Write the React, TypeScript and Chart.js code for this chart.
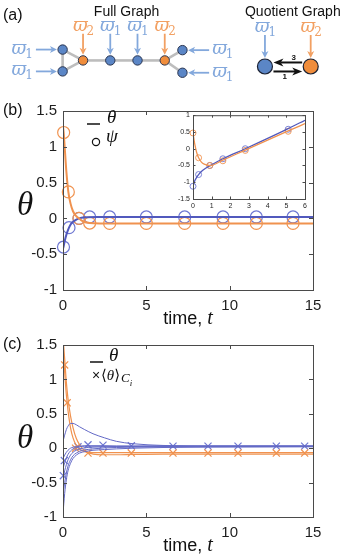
import React, { useEffect, useRef } from "react";
import { Chart, registerables } from "chart.js";

Chart.register(...registerables);

const SANS = "'Liberation Sans', Arial, Helvetica, sans-serif";
const SERIF = "'Liberation Serif', 'Times New Roman', serif";
const MATH = "'DejaVu Serif', 'Liberation Serif', serif";

const ORANGE = "#f0924f";
const BLUE = "#5159bd";
const BLUE_MARK = "#6f78d2";
const BLUE_THIN = "#6369c6";
const BLUE_NODE = "#5b86c6";
const ORANGE_NODE = "#f08d3c";
const BLUE_ARROW = "#83a8dc";
const ORANGE_ARROW = "#f2a062";
const EDGE = "#bdbdbd";
const FRAME = "#4a4a4a";
const TICK_TEXT = "#1e1e1e";

// ---------- (a) graph layouts (layout units) ----------
const fullNodeX = [0, 0, 0.75, 1.75, 2.75, 3.75, 4.4, 4.4];
const fullNodeY = [0.97, -0.98, 0, 0, 0, 0, 0.92, -1.1];
const fullNodeCluster = [1, 1, 2, 1, 1, 2, 1, 1];
const fullEdgeFrom = [0, 0, 1, 2, 3, 4, 5, 5];
const fullEdgeTo = [1, 2, 2, 3, 4, 5, 6, 7];
const fullInputSide = ["left", "left", "top", "top", "top", "top", "right", "right"];
const quotNodeX = [7.43, 9.11];
const quotNodeY = [-0.54, -0.54];
const quotCluster = [1, 2];
const quotLinkFrom = [1, 0];
const quotLinkTo = [0, 1];
const quotLinkWeight = [3, 1];

// ---------- (b) reduced dynamics ----------
const bTimeOrange = [0, 0.04, 0.1, 0.2, 0.32, 0.45, 0.6, 0.8, 0.96, 1.2, 1.6, 2.2, 15];
const bThetaOrange = [1.28, 1.2, 1.0, 0.66, 0.37, 0.21, 0.1, 0.03, 0.0, -0.04, -0.065, -0.07, -0.07];
const bTimeBlue = [0, 0.03, 0.1, 0.2, 0.36, 0.5, 0.7, 0.96, 1.3, 2, 15];
const bThetaBlue = [-0.42, -0.4, -0.32, -0.23, -0.13, -0.07, -0.03, 0.0, 0.015, 0.02, 0.02];
const bPsiTimeOrange = [0.04, 0.32, 0.96, 1.6, 2.8, 5.0, 7.3, 9.6, 11.6, 13.8];
const bPsiOrange = [1.2, 0.37, 0.0, -0.065, -0.07, -0.07, -0.07, -0.07, -0.07, -0.07];
const bPsiTimeBlue = [0.03, 0.36, 0.96, 1.6, 2.8, 5.0, 7.3, 9.6, 11.6, 13.8];
const bPsiBlue = [-0.4, -0.13, 0.0, 0.02, 0.02, 0.02, 0.02, 0.02, 0.02, 0.02];

// inset: drifting frame
const insetTime = [0, 0.1, 0.2, 0.3, 0.45, 0.6, 0.9, 1.6, 2.8, 5.1, 6];
const insetThetaOrange = [0.47, 0.12, -0.12, -0.27, -0.4, -0.46, -0.5, -0.34, -0.04, 0.53, 0.75];
const insetThetaBlue = [-1.12, -0.95, -0.85, -0.77, -0.68, -0.61, -0.51, -0.3, 0.0, 0.6, 0.85];
const insetPsiTime = [0, 0.3, 0.9, 1.6, 2.8, 5.1];
const insetPsiOrange = [0.47, -0.27, -0.5, -0.36, -0.05, 0.52];
const insetPsiBlue = [-1.12, -0.77, -0.5, -0.3, 0.0, 0.58];

// ---------- (c) full network ----------
const cTime = [0, 0.1, 0.2, 0.3, 0.45, 0.6, 0.8, 1.0, 1.3, 1.8, 2.5, 3.2, 4.2, 6, 9, 15];
const cThetaBlue = [
  [0.1, 0.19, 0.27, 0.32, 0.36, 0.36, 0.34, 0.31, 0.27, 0.21, 0.15, 0.1, 0.065, 0.04, 0.03, 0.03],
  [-0.15, -0.1, -0.06, -0.03, 0.0, 0.015, 0.025, 0.03, 0.035, 0.035, 0.035, 0.03, 0.03, 0.03, 0.03, 0.03],
  [-0.3, -0.21, -0.14, -0.09, -0.04, -0.01, 0.01, 0.02, 0.03, 0.03, 0.03, 0.03, 0.03, 0.03, 0.03, 0.03],
  [-0.45, -0.33, -0.24, -0.17, -0.1, -0.06, -0.03, -0.01, 0.005, 0.015, 0.02, 0.025, 0.025, 0.03, 0.03, 0.03],
  [-0.68, -0.5, -0.36, -0.26, -0.17, -0.11, -0.07, -0.045, -0.025, -0.01, 0.005, 0.01, 0.015, 0.02, 0.025, 0.025],
  [-0.95, -0.66, -0.46, -0.33, -0.22, -0.15, -0.1, -0.07, -0.05, -0.03, -0.02, -0.01, 0.0, 0.01, 0.015, 0.02],
];
const cThetaOrange = [
  [1.45, 1.1, 0.78, 0.55, 0.3, 0.15, 0.04, -0.02, -0.05, -0.065, -0.065, -0.065, -0.065, -0.065, -0.065, -0.065],
  [1.62, 1.3, 0.96, 0.72, 0.47, 0.3, 0.14, 0.05, -0.04, -0.085, -0.095, -0.095, -0.09, -0.085, -0.085, -0.085],
];
const cMeanTimeBlue = [0.02, 0.08, 0.9, 1.5, 2.4, 4.1, 6.6, 8.7, 10.5, 12.8, 14.5];
const cMeanBlue = [-0.4, -0.18, 0.02, 0.05, 0.045, 0.035, 0.03, 0.03, 0.03, 0.03, 0.03];
const cMeanTimeOrange = [0.1, 0.25, 0.75, 1.5, 2.4, 4.1, 6.6, 8.7, 10.5, 12.8, 14.5];
const cMeanOrange = [1.21, 0.66, 0.0, -0.07, -0.07, -0.07, -0.07, -0.07, -0.07, -0.07, -0.07];

const pts = (t: number[], v: number[]) => t.map((x, i) => ({ x, y: v[i] }));

// ---------- drawing helpers ----------
function arrow(ctx: CanvasRenderingContext2D, x1: number, y1: number, x2: number, y2: number,
  color: string, w: number, hl: number, hw: number) {
  const a = Math.atan2(y2 - y1, x2 - x1);
  const c = Math.cos(a), s = Math.sin(a);
  ctx.strokeStyle = color;
  ctx.lineWidth = w;
  ctx.beginPath();
  ctx.moveTo(x1, y1);
  ctx.lineTo(x2 - c * hl * 0.7, y2 - s * hl * 0.7);
  ctx.stroke();
  ctx.fillStyle = color;
  ctx.beginPath();
  ctx.moveTo(x2, y2);
  ctx.lineTo(x2 - c * hl - s * hw, y2 - s * hl + c * hw);
  ctx.lineTo(x2 - c * hl * 0.72, y2 - s * hl * 0.72);
  ctx.lineTo(x2 - c * hl + s * hw, y2 - s * hl - c * hw);
  ctx.closePath();
  ctx.fill();
}

function varpiWidth(ctx: CanvasRenderingContext2D, sub: string) {
  ctx.font = `italic 18px ${MATH}`;
  const w1 = ctx.measureText("ϖ").width;
  ctx.font = `12px ${MATH}`;
  return w1 + ctx.measureText(sub).width;
}

function varpi(ctx: CanvasRenderingContext2D, x0: number, cy: number, sub: string, color: string) {
  ctx.fillStyle = color;
  ctx.textAlign = "left";
  ctx.textBaseline = "alphabetic";
  ctx.font = `italic 18px ${MATH}`;
  const w1 = ctx.measureText("ϖ").width;
  ctx.fillText("ϖ", x0, cy + 4);
  ctx.font = `12px ${MATH}`;
  ctx.fillText(sub, x0 + w1 - 1, cy + 8);
}

function drawBox(chart: any, len: number) {
  const ctx: CanvasRenderingContext2D = chart.ctx;
  const { left, right, top, bottom } = chart.chartArea;
  const xs = chart.scales.x, ys = chart.scales.y;
  ctx.save();
  ctx.strokeStyle = FRAME;
  ctx.lineWidth = 1;
  ctx.strokeRect(left + 0.5, top + 0.5, right - left, bottom - top);
  ctx.beginPath();
  xs.ticks.forEach((t: any) => {
    const px = Math.round(xs.getPixelForValue(t.value)) + 0.5;
    ctx.moveTo(px, bottom); ctx.lineTo(px, bottom - len);
    ctx.moveTo(px, top); ctx.lineTo(px, top + len);
  });
  ys.ticks.forEach((t: any) => {
    const py = Math.round(ys.getPixelForValue(t.value)) + 0.5;
    ctx.moveTo(left, py); ctx.lineTo(left + len, py);
    ctx.moveTo(right, py); ctx.lineTo(right - len, py);
  });
  ctx.stroke();
  ctx.restore();
}

function drawTimeLabel(ctx: CanvasRenderingContext2D, cx: number, baseY: number) {
  ctx.textAlign = "left";
  ctx.textBaseline = "alphabetic";
  ctx.fillStyle = "#111";
  ctx.font = `18px ${SANS}`;
  const a = "time, ";
  const wa = ctx.measureText(a).width;
  ctx.font = `italic 20px ${SERIF}`;
  const wb = ctx.measureText("t").width;
  const x0 = cx - (wa + wb) / 2;
  ctx.font = `18px ${SANS}`;
  ctx.fillText(a, x0, baseY);
  ctx.font = `italic 20px ${SERIF}`;
  ctx.fillText("t", x0 + wa, baseY);
}

function drawThetaLabel(ctx: CanvasRenderingContext2D, cx: number, cy: number) {
  ctx.fillStyle = "#111";
  ctx.textAlign = "center";
  ctx.textBaseline = "middle";
  ctx.font = `italic 33px ${SERIF}`;
  ctx.fillText("θ", cx, cy);
}

function linearAxes(o: {
  xMin: number; xMax: number; xStep: number; yMin: number; yMax: number; yStep: number;
  yWidth: number; xHeight: number; size: number; xPad: number; yPad: number;
}) {
  const tickFont = { family: SANS, size: o.size };
  return {
    x: {
      type: "linear", min: o.xMin, max: o.xMax,
      ticks: { stepSize: o.xStep, font: tickFont, color: TICK_TEXT, padding: o.xPad, maxRotation: 0, autoSkip: false, callback: (v: any) => String(v) },
      grid: { display: false, drawTicks: false }, border: { display: false },
      afterFit: (s: any) => { s.height = o.xHeight; },
    },
    y: {
      type: "linear", min: o.yMin, max: o.yMax,
      ticks: { stepSize: o.yStep, font: tickFont, color: TICK_TEXT, padding: o.yPad, autoSkip: false, callback: (v: any) => String(v) },
      grid: { display: false, drawTicks: false }, border: { display: false },
      afterFit: (s: any) => { s.width = o.yWidth; },
    },
  };
}

const quiet = { legend: { display: false }, tooltip: { enabled: false } };

// ---------- chart configs ----------
function graphConfig(): any {
  const nodeColor = (c: number) => (c === 1 ? BLUE_NODE : ORANGE_NODE);
  const edgeSets = fullEdgeFrom.map((f, i) => ({
    type: "scatter",
    data: [
      { x: fullNodeX[f], y: fullNodeY[f] },
      { x: fullNodeX[fullEdgeTo[i]], y: fullNodeY[fullEdgeTo[i]] },
    ],
    showLine: true, borderColor: EDGE, borderWidth: 2.6, pointRadius: 0, order: 2, clip: false,
  }));
  const deco = {
    id: "graphDeco",
    afterDatasetsDraw(chart: any) {
      const ctx: CanvasRenderingContext2D = chart.ctx;
      const xs = chart.scales.x, ys = chart.scales.y;
      ctx.save();
      ctx.fillStyle = "#111";
      ctx.textBaseline = "middle";
      ctx.textAlign = "left";
      ctx.font = `16px ${SANS}`;
      ctx.fillText("(a)", 3, 16);
      ctx.font = `14px ${SANS}`;
      ctx.textAlign = "center";
      const fx = fullNodeX.map((v) => xs.getPixelForValue(v));
      const fy = fullNodeY.map((v) => ys.getPixelForValue(v));
      ctx.fillText("Full Graph", (Math.min(...fx) + Math.max(...fx)) / 2 + 4, 12);
      const qx = quotNodeX.map((v) => xs.getPixelForValue(v));
      const qy = quotNodeY.map((v) => ys.getPixelForValue(v));
      ctx.fillText("Quotient Graph", (qx[0] + qx[1]) / 2 + 5, 12);

      const r = 4.7;
      fullInputSide.forEach((side, i) => {
        const c = fullNodeCluster[i];
        const col = c === 1 ? BLUE_ARROW : ORANGE_ARROW;
        const sub = String(c);
        const w = varpiWidth(ctx, sub);
        if (side === "left") {
          arrow(ctx, fx[i] - r - 22, fy[i], fx[i] - r - 1, fy[i], col, 1.8, 7, 3.5);
          varpi(ctx, fx[i] - r - 24 - w, fy[i], sub, col);
        } else if (side === "right") {
          arrow(ctx, fx[i] + r + 22, fy[i], fx[i] + r + 1, fy[i], col, 1.8, 7, 3.5);
          varpi(ctx, fx[i] + r + 25, fy[i], sub, col);
        } else {
          arrow(ctx, fx[i], fy[i] - r - 22, fx[i], fy[i] - r - 1, col, 1.8, 7, 3.5);
          varpi(ctx, fx[i] + 1 - w / 2, fy[i] - r - 29, sub, col);
        }
      });

      const qr = 7.5;
      quotCluster.forEach((c, i) => {
        const col = c === 1 ? BLUE_ARROW : ORANGE_ARROW;
        const sub = String(c);
        const w = varpiWidth(ctx, sub);
        arrow(ctx, qx[i], qy[i] - qr - 24, qx[i], qy[i] - qr - 1, col, 1.8, 7, 3.5);
        varpi(ctx, qx[i] + 1 - w / 2, qy[i] - qr - 31, sub, col);
      });
      quotLinkFrom.forEach((f, k) => {
        const t = quotLinkTo[k];
        const dir = Math.sign(qx[t] - qx[f]);
        const y = qy[f] + (dir < 0 ? -4 : 5);
        arrow(ctx, qx[f] + dir * (qr + 1), y, qx[t] - dir * (qr + 1), y, "#111", 2, 10, 4);
        const mid = (qx[f] + qx[t]) / 2;
        ctx.fillStyle = "#111";
        ctx.font = `bold 8px ${SANS}`;
        ctx.textAlign = "center";
        ctx.textBaseline = "middle";
        ctx.fillText(String(quotLinkWeight[k]), dir < 0 ? mid + 6 : mid - 3, dir < 0 ? y - 5 : y + 5);
      });
      ctx.restore();
    },
  };
  return {
    type: "scatter",
    data: {
      datasets: [
        ...edgeSets,
        {
          type: "scatter",
          data: pts(fullNodeX, fullNodeY),
          pointRadius: 4.7,
          pointBackgroundColor: fullNodeCluster.map(nodeColor),
          pointBorderColor: "#2a3550",
          pointBorderWidth: 1,
          order: 1, clip: false,
        },
        {
          type: "scatter",
          data: pts(quotNodeX, quotNodeY),
          pointRadius: 7.5,
          pointBackgroundColor: quotCluster.map(nodeColor),
          pointBorderColor: "#1c2233",
          pointBorderWidth: 1.2,
          order: 1, clip: false,
        },
      ],
    },
    options: {
      responsive: false, animation: false, events: [],
      layout: { padding: 0 },
      plugins: quiet,
      scales: {
        x: { type: "linear", display: false, min: -1.98, max: 9.94 },
        y: { type: "linear", display: false, min: -2.31, max: 4.62 },
      },
    },
    plugins: [deco],
  };
}

function reducedConfig(): any {
  const deco = {
    id: "reducedDeco",
    afterDatasetsDraw(chart: any) {
      drawBox(chart, 4);
      const ctx: CanvasRenderingContext2D = chart.ctx;
      const { left, top, right, bottom } = chart.chartArea;
      ctx.save();
      ctx.fillStyle = "#111";
      ctx.textAlign = "left";
      ctx.textBaseline = "middle";
      ctx.font = `16px ${SANS}`;
      ctx.fillText("(b)", 3, top);
      drawThetaLabel(ctx, 25, chart.scales.y.getPixelForValue(0) - 12);
      drawTimeLabel(ctx, (left + right) / 2, bottom + 34);
      // legend
      ctx.strokeStyle = "#111";
      ctx.lineWidth = 1.5;
      ctx.beginPath();
      ctx.moveTo(left + 24, top + 13);
      ctx.lineTo(left + 37, top + 13);
      ctx.stroke();
      ctx.font = `italic 19px ${SERIF}`;
      ctx.fillStyle = "#111";
      ctx.fillText("θ", left + 44, top + 12);
      ctx.lineWidth = 1.2;
      ctx.beginPath();
      ctx.arc(left + 33, top + 31, 3.6, 0, Math.PI * 2);
      ctx.stroke();
      ctx.fillText("ψ", left + 43, top + 31);
      ctx.restore();
    },
  };
  return {
    type: "line",
    data: {
      datasets: [
        { data: pts(bTimeOrange, bThetaOrange), borderColor: ORANGE, borderWidth: 2, pointRadius: 0, cubicInterpolationMode: "monotone" },
        { data: pts(bTimeBlue, bThetaBlue), borderColor: BLUE, borderWidth: 2, pointRadius: 0, cubicInterpolationMode: "monotone" },
        { data: pts(bPsiTimeOrange, bPsiOrange), showLine: false, pointStyle: "circle", pointRadius: 6, pointBorderColor: ORANGE, pointBackgroundColor: "rgba(0,0,0,0)", pointBorderWidth: 1.2, clip: false },
        { data: pts(bPsiTimeBlue, bPsiBlue), showLine: false, pointStyle: "circle", pointRadius: 6, pointBorderColor: BLUE_MARK, pointBackgroundColor: "rgba(0,0,0,0)", pointBorderWidth: 1.2, clip: false },
      ],
    },
    options: {
      responsive: false, animation: false, events: [],
      layout: { padding: { top: 16, right: 29, left: 0, bottom: 0 } },
      plugins: quiet,
      scales: linearAxes({ xMin: 0, xMax: 15, xStep: 5, yMin: -1, yMax: 1.5, yStep: 0.5, yWidth: 63, xHeight: 40, size: 15, xPad: 7, yPad: 6 }),
    },
    plugins: [deco],
  };
}

function insetConfig(): any {
  const deco = {
    id: "insetDeco",
    beforeDatasetsDraw(chart: any) {
      const { left, top, right, bottom } = chart.chartArea;
      chart.ctx.save();
      chart.ctx.fillStyle = "#fff";
      chart.ctx.fillRect(left, top, right - left, bottom - top);
      chart.ctx.restore();
    },
    afterDatasetsDraw(chart: any) {
      drawBox(chart, 2.5);
    },
  };
  return {
    type: "line",
    data: {
      datasets: [
        { data: pts(insetTime, insetThetaOrange), borderColor: ORANGE, borderWidth: 1.3, pointRadius: 0, cubicInterpolationMode: "monotone" },
        { data: pts(insetTime, insetThetaBlue), borderColor: BLUE, borderWidth: 1.3, pointRadius: 0, cubicInterpolationMode: "monotone" },
        { data: pts(insetPsiTime, insetPsiOrange), showLine: false, pointStyle: "circle", pointRadius: 3, pointBorderColor: ORANGE, pointBackgroundColor: "rgba(0,0,0,0)", pointBorderWidth: 0.9, clip: false },
        { data: pts(insetPsiTime, insetPsiBlue), showLine: false, pointStyle: "circle", pointRadius: 3, pointBorderColor: BLUE_MARK, pointBackgroundColor: "rgba(0,0,0,0)", pointBorderWidth: 0.9, clip: false },
      ],
    },
    options: {
      responsive: false, animation: false, events: [],
      layout: { padding: { top: 7, right: 5, left: 0, bottom: 0 } },
      plugins: quiet,
      scales: linearAxes({ xMin: 0, xMax: 6, xStep: 1, yMin: -1.5, yMax: 1, yStep: 0.5, yWidth: 23, xHeight: 12, size: 7, xPad: 3, yPad: 3 }),
    },
    plugins: [deco],
  };
}

function fullConfig(): any {
  const deco = {
    id: "fullDeco",
    afterDatasetsDraw(chart: any) {
      drawBox(chart, 4);
      const ctx: CanvasRenderingContext2D = chart.ctx;
      const { left, top, right, bottom } = chart.chartArea;
      ctx.save();
      ctx.fillStyle = "#111";
      ctx.textAlign = "left";
      ctx.textBaseline = "middle";
      ctx.font = `16px ${SANS}`;
      ctx.fillText("(c)", 3, top);
      drawThetaLabel(ctx, 25, chart.scales.y.getPixelForValue(0) - 9);
      drawTimeLabel(ctx, (left + right) / 2, bottom + 34);
      // legend
      ctx.strokeStyle = "#111";
      ctx.lineWidth = 1.5;
      ctx.beginPath();
      ctx.moveTo(left + 27, top + 17);
      ctx.lineTo(left + 40, top + 17);
      ctx.stroke();
      ctx.fillStyle = "#111";
      ctx.font = `italic 19px ${SERIF}`;
      ctx.fillText("θ", left + 46, top + 16);
      ctx.font = `14px ${SANS}`;
      ctx.fillText("×", left + 29, top + 35);
      ctx.font = `15px ${MATH}`;
      const a = "⟨";
      ctx.fillText(a, left + 38, top + 35);
      let x = left + 38 + ctx.measureText(a).width;
      ctx.font = `italic 15px ${SERIF}`;
      ctx.fillText("θ", x, top + 35);
      x += ctx.measureText("θ").width;
      ctx.font = `15px ${MATH}`;
      ctx.fillText("⟩", x, top + 35);
      x += ctx.measureText("⟩").width + 1;
      ctx.font = `italic 13px ${SERIF}`;
      ctx.fillText("C", x, top + 37);
      x += ctx.measureText("C").width;
      ctx.font = `italic 9px ${SERIF}`;
      ctx.fillText("i", x, top + 41);
      ctx.restore();
    },
  };
  const blueLines = cThetaBlue.map((v) => ({
    data: pts(cTime, v), borderColor: BLUE_THIN, borderWidth: 1, pointRadius: 0, cubicInterpolationMode: "monotone",
  }));
  const orangeLines = cThetaOrange.map((v) => ({
    data: pts(cTime, v), borderColor: ORANGE, borderWidth: 1.2, pointRadius: 0, cubicInterpolationMode: "monotone",
  }));
  return {
    type: "line",
    data: {
      datasets: [
        ...blueLines,
        ...orangeLines,
        { data: pts(cMeanTimeOrange, cMeanOrange), showLine: false, pointStyle: "crossRot", pointRadius: 5, pointBorderColor: ORANGE, pointBorderWidth: 1.2, clip: false },
        { data: pts(cMeanTimeBlue, cMeanBlue), showLine: false, pointStyle: "crossRot", pointRadius: 5, pointBorderColor: BLUE_MARK, pointBorderWidth: 1.2, clip: false },
      ],
    },
    options: {
      responsive: false, animation: false, events: [],
      layout: { padding: { top: 8, right: 29, left: 0, bottom: 0 } },
      plugins: quiet,
      scales: linearAxes({ xMin: 0, xMax: 15, xStep: 5, yMin: -1, yMax: 1.5, yStep: 0.5, yWidth: 63, xHeight: 38, size: 15, xPad: 7, yPad: 6 }),
    },
    plugins: [deco],
  };
}

function PlotCanvas(props: { left: number; top: number; width: number; height: number; make: () => any }) {
  const ref = useRef<HTMLCanvasElement>(null);
  useEffect(() => {
    const chart = new Chart(ref.current as HTMLCanvasElement, props.make());
    return () => chart.destroy();
  }, []);
  return (
    <canvas
      ref={ref}
      width={props.width}
      height={props.height}
      style={{ position: "absolute", left: props.left, top: props.top, width: props.width, height: props.height }}
    />
  );
}

export default function App() {
  return (
    <div style={{ position: "absolute", left: 0, top: 0, width: 342, height: 555, background: "#fff", overflow: "hidden" }}>
      <PlotCanvas left={0} top={0} width={342} height={95} make={graphConfig} />
      <PlotCanvas left={0} top={95} width={342} height={235} make={reducedConfig} />
      <PlotCanvas left={170} top={108} width={140} height={103} make={insetConfig} />
      <PlotCanvas left={0} top={330} width={342} height={225} make={fullConfig} />
    </div>
  );
}
